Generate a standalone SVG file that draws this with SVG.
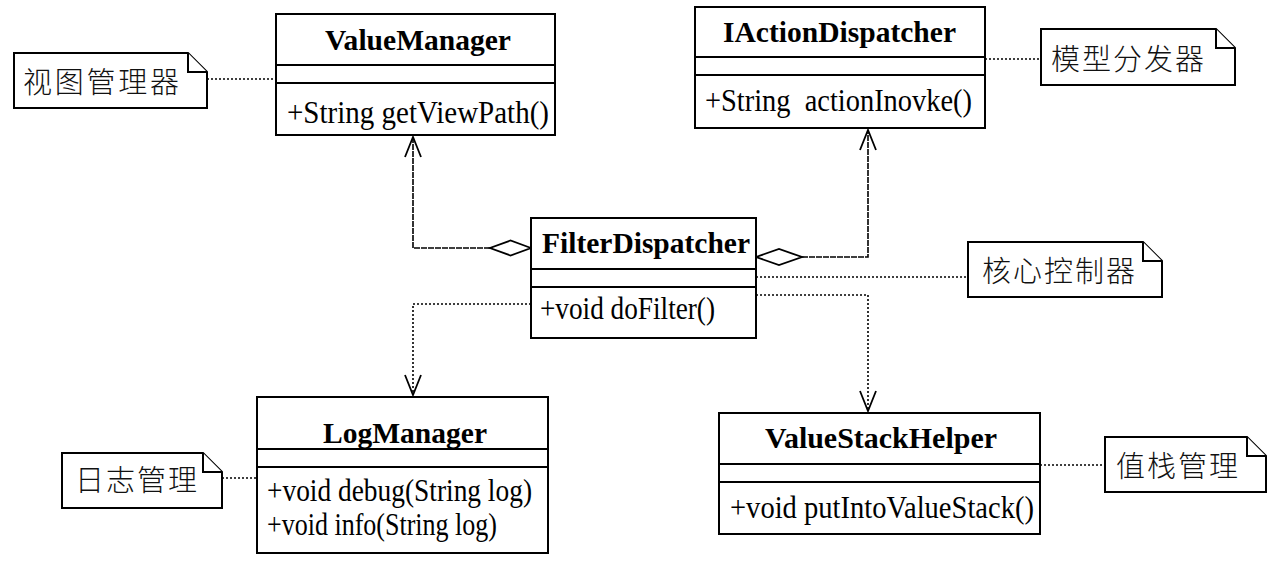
<svg xmlns="http://www.w3.org/2000/svg" width="1279" height="571" viewBox="0 0 1279 571">
<style>
.box{fill:#fff;stroke:#000;stroke-width:2}
.div{stroke:#000;stroke-width:2}
.title{font-family:"Liberation Serif","Times New Roman",serif;font-weight:bold;font-size:30px;fill:#000}
.meth{font-family:"Liberation Serif","Times New Roman",serif;font-size:31px;fill:#000}
.note{fill:#fff;stroke:#000;stroke-width:2}
.ntxt{font-family:"Noto Sans CJK SC","Noto Sans CJK JP",sans-serif;font-weight:300;font-size:29px;fill:#111}
.dot{fill:none;stroke:#000;stroke-width:1.6;stroke-dasharray:2 2}
.agg{fill:none;stroke:#000;stroke-width:1.6;stroke-dasharray:6 1}
.dia{fill:#fff;stroke:#000;stroke-width:1.8}
</style>
<defs>
<marker id="open" markerUnits="userSpaceOnUse" markerWidth="24" markerHeight="20" refX="22" refY="10" orient="auto" viewBox="0 0 24 20">
<path d="M2,2 L22,10 L2,18" fill="none" stroke="#000" stroke-width="1.8" stroke-dasharray="none"/>
</marker>
</defs>
<rect width="1279" height="571" fill="#fff"/>

<g id="connectors">
<path class="agg" d="M490,248 H413 V137" marker-end="url(#open)"/>
<polygon class="dia" points="531,248 510.5,240.5 490,248 510.5,255.5"/>
<path class="agg" d="M802,257 H868 V130" marker-end="url(#open)"/>
<polygon class="dia" points="756,257 779,249 802,257 779,265"/>
<path class="dot" d="M531,304 H413 V395" marker-end="url(#open)"/>
<path class="dot" d="M756,295 H868 V411" marker-end="url(#open)"/>
<path class="dot" d="M207,79 H276"/>
<path class="dot" d="M985,59 H1041"/>
<path class="dot" d="M756,277 H968"/>
<path class="dot" d="M222,478 H257"/>
<path class="dot" d="M1040,465 H1105"/>
</g>

<g id="ValueManager">
<rect class="box" x="276" y="14" width="279" height="121"/>
<line class="div" x1="276" y1="65" x2="555" y2="65"/>
<line class="div" x1="276" y1="83" x2="555" y2="83"/>
<text class="title" x="325" y="50" textLength="186" lengthAdjust="spacingAndGlyphs">ValueManager</text>
<text class="meth" x="287" y="123" textLength="262" lengthAdjust="spacingAndGlyphs">+String getViewPath()</text>
</g>

<g id="IActionDispatcher">
<rect class="box" x="695" y="7" width="290" height="121"/>
<line class="div" x1="695" y1="57" x2="985" y2="57"/>
<line class="div" x1="695" y1="75" x2="985" y2="75"/>
<text class="title" x="723" y="42" textLength="233" lengthAdjust="spacingAndGlyphs">IActionDispatcher</text>
<text class="meth" x="705" y="111" textLength="267" lengthAdjust="spacingAndGlyphs" xml:space="preserve" style="white-space:pre">+String  actionInovke()</text>
</g>

<g id="FilterDispatcher">
<rect class="box" x="531" y="218" width="225" height="120"/>
<line class="div" x1="531" y1="269" x2="756" y2="269"/>
<line class="div" x1="531" y1="287" x2="756" y2="287"/>
<text class="title" x="542" y="253" textLength="208" lengthAdjust="spacingAndGlyphs">FilterDispatcher</text>
<text class="meth" x="540" y="319" textLength="175" lengthAdjust="spacingAndGlyphs">+void doFilter()</text>
</g>

<g id="LogManager">
<rect class="box" x="257" y="397" width="291" height="156"/>
<line class="div" x1="257" y1="449" x2="548" y2="449"/>
<line class="div" x1="257" y1="467" x2="548" y2="467"/>
<text class="title" x="323" y="443" textLength="164" lengthAdjust="spacingAndGlyphs">LogManager</text>
<text class="meth" x="267" y="501" textLength="265" lengthAdjust="spacingAndGlyphs">+void debug(String log)</text>
<text class="meth" x="267" y="535" textLength="230" lengthAdjust="spacingAndGlyphs">+void info(String log)</text>
</g>

<g id="ValueStackHelper">
<rect class="box" x="719" y="413" width="321" height="121"/>
<line class="div" x1="719" y1="464" x2="1040" y2="464"/>
<line class="div" x1="719" y1="482" x2="1040" y2="482"/>
<text class="title" x="765" y="448" textLength="232" lengthAdjust="spacingAndGlyphs">ValueStackHelper</text>
<text class="meth" x="730" y="518" textLength="304" lengthAdjust="spacingAndGlyphs">+void putIntoValueStack()</text>
</g>

<g id="note-view">
<path class="note" d="M14,53 H188 L207,72 V108 H14 Z"/>
<path class="note" d="M188,53 V72 H207" fill="none"/>
<text class="ntxt" x="23" y="93" textLength="156">视图管理器</text>
</g>

<g id="note-model">
<path class="note" d="M1041,29 H1216 L1235,48 V85 H1041 Z"/>
<path class="note" d="M1216,29 V48 H1235" fill="none"/>
<text class="ntxt" x="1051" y="70" textLength="153">模型分发器</text>
</g>

<g id="note-core">
<path class="note" d="M968,242 H1143 L1162,261 V297 H968 Z"/>
<path class="note" d="M1143,242 V261 H1162" fill="none"/>
<text class="ntxt" x="982" y="282" textLength="153">核心控制器</text>
</g>

<g id="note-log">
<path class="note" d="M62,453 H203 L222,472 V508 H62 Z"/>
<path class="note" d="M203,453 V472 H222" fill="none"/>
<text class="ntxt" x="75" y="491" textLength="122">日志管理</text>
</g>

<g id="note-stack">
<path class="note" d="M1105,437 H1247 L1266,456 V492 H1105 Z"/>
<path class="note" d="M1247,437 V456 H1266" fill="none"/>
<text class="ntxt" x="1116" y="477" textLength="122">值栈管理</text>
</g>
</svg>
